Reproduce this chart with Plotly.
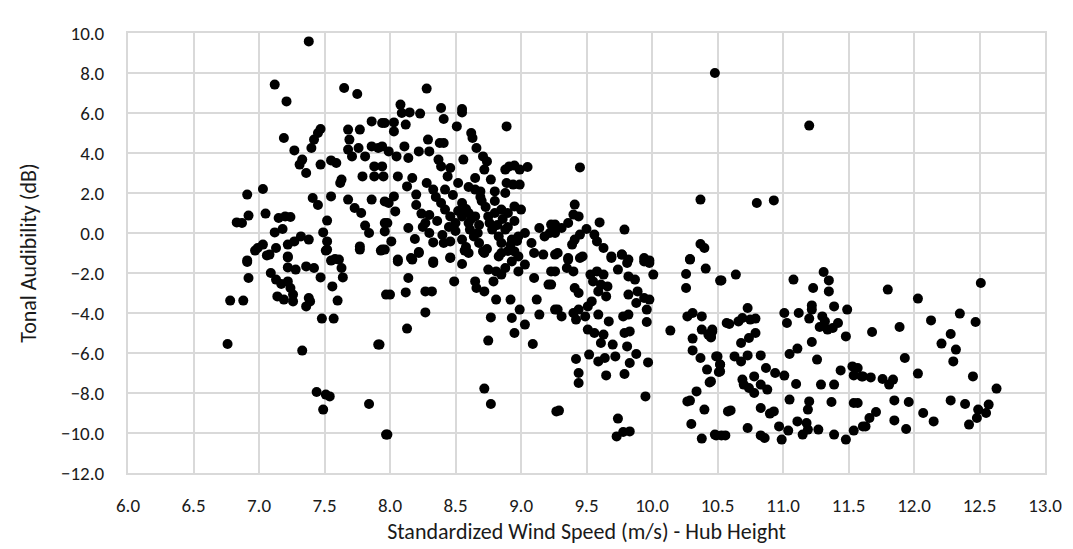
import plotly.graph_objects as go

# Wind speed (m/s) values, grouped by region
x_left = [7.38, 7.12, 7.21, 7.65, 7.75, 7.19, 7.27, 7.40, 7.42, 7.47, 7.45, 7.33, 7.36, 7.31, 7.47, 7.55, 7.59,
          7.63, 7.62, 6.91, 7.03, 6.83, 6.87, 6.92, 7.05, 7.15, 7.20, 7.24, 7.12, 7.18, 7.03, 6.99, 7.08, 7.22,
          7.27, 7.32, 7.38, 7.22, 6.91, 7.41, 7.45, 7.55, 7.49, 7.52, 7.52, 7.52, 7.68, 7.73, 7.78, 7.68, 7.69,
          7.77, 7.86, 7.94, 7.68, 7.76, 7.86, 7.91, 7.71, 7.81, 7.88, 7.79, 7.88, 7.86, 7.96, 7.81, 7.84, 7.96,
          7.77, 7.94, 7.58,
          6.97, 7.13, 6.91, 7.06, 6.92, 6.78, 6.88, 7.22, 7.22, 7.28, 7.36, 7.42, 7.09, 7.13, 7.17, 7.22, 7.24,
          7.14, 7.19, 7.26, 7.26, 7.38, 7.39, 7.36, 7.47, 7.51, 7.55, 7.61, 7.63, 7.64, 7.56, 7.60, 7.48, 7.57,
          6.76, 7.33, 7.91, 7.44, 7.51, 7.54, 7.49, 7.84, 7.97, 7.77, 7.93, 7.97]
y_left = [9.58, 7.42, 6.58, 7.25, 6.95, 4.75, 4.13, 4.25, 4.67, 5.20, 5.00, 3.67, 3.00, 3.42, 3.42, 3.63, 3.50,
          2.67, 2.50, 1.92, 2.20, 0.53, 0.50, 0.87, 0.97, 0.75, 0.83, 0.80, 0.03, 0.20, -0.58, -0.75, -1.08, -0.58,
          -0.42, -0.17, -0.33, -1.17, -1.37, 1.75, 1.40, 1.83, 0.03, -0.42, 0.62, -0.83, 1.67, 1.25, 1.00, 5.17, 4.67,
          5.17, 5.58, 5.50, 4.17, 4.25, 4.33, 4.25, 3.83, 3.83, 3.33, 2.83, 2.83, 1.67, 1.58, 0.37, 0.00, 0.50,
          -0.67, -0.83, -1.30,
          -0.88, -0.75, -1.45, -1.12, -2.25, -3.38, -3.38, -1.22, -1.72, -1.83, -1.67, -1.75, -2.00, -2.33, -2.55,
          -2.42, -2.75, -3.17, -3.33, -3.42, -3.08, -3.25, -3.42, -3.67, -2.22, -0.88, -1.38, -1.33, -1.75, -2.22,
          -2.67, -3.38, -4.28, -4.28, -5.55, -5.88, -5.58, -7.95, -8.08, -8.17, -8.83, -8.55, -10.08, -0.83, -0.88,
          -3.08]

x_mid = [8.28, 8.08, 8.15, 8.23, 8.09, 8.39, 8.41, 8.55, 8.55, 8.51, 8.62, 8.63, 8.66, 8.89, 7.96, 8.03, 8.03,
         8.12, 7.94, 7.99, 8.05, 8.11, 8.14, 8.22, 8.29, 8.30, 8.38, 8.41, 8.37, 8.39, 8.46, 8.56, 7.94, 7.95,
         8.06, 8.13, 8.17, 8.20, 8.28, 8.33, 8.44, 8.42, 8.52, 8.65, 8.65, 8.69, 8.71, 8.74, 8.72, 8.77, 8.80,
         8.88, 8.91, 8.95, 8.99, 9.05, 8.89, 8.94, 8.99, 8.88, 8.03, 7.99, 8.04, 7.98, 7.96, 8.01, 8.14, 8.19,
         8.24, 8.27, 8.30, 8.33, 8.39, 8.42, 8.46, 8.50, 8.55, 8.60, 8.60, 8.65, 8.61, 8.64, 8.67, 8.55, 8.46,
         8.41, 8.75, 8.80, 8.85, 8.90, 8.95, 9.00, 8.78, 8.83, 8.88, 8.93, 8.98, 9.03, 9.08, 9.14, 9.18, 9.23,
         9.26, 8.06, 8.16, 8.22, 8.33, 8.46, 8.60, 8.72, 8.83, 8.98, 9.10,
         7.96, 8.06, 8.17, 8.22, 8.33, 8.46, 8.55, 8.57, 8.14, 8.00, 8.12, 8.27, 8.32, 8.27, 8.13, 7.92, 8.49,
         8.65, 8.66, 8.72, 8.79, 8.81, 8.77, 8.75, 8.75, 8.81, 8.88, 8.85, 8.93, 8.98, 9.03, 8.92, 8.99, 8.93,
         8.95, 9.03, 9.09, 9.10, 9.12, 9.14, 9.21, 9.23, 9.26, 9.17, 8.72, 8.77, 9.27, 7.98, 8.71, 8.85, 8.95,
         8.55, 8.58, 8.62, 8.68, 8.70, 8.73, 8.76, 8.82, 8.86, 8.90, 8.92, 8.95, 8.97, 8.68, 8.74, 8.85, 8.90,
         8.58, 8.50, 8.45, 8.36, 8.35, 8.48, 8.60, 8.69, 8.80, 8.52, 8.40, 8.30, 8.20, 8.25]
y_mid = [7.22, 6.42, 6.03, 5.97, 6.00, 6.25, 5.70, 6.20, 6.03, 5.33, 5.00, 4.75, 4.25, 5.33, 5.50, 5.53, 5.08,
         5.42, 4.33, 4.08, 3.83, 4.33, 3.75, 4.08, 4.67, 4.08, 4.50, 4.50, 3.67, 3.33, 3.25, 3.67, 3.33, 2.83,
         2.83, 2.33, 2.75, 1.92, 2.50, 2.17, 2.83, 2.17, 2.50, 2.75, 2.17, 2.08, 3.83, 3.58, 3.17, 2.67, 2.08,
         3.17, 3.33, 3.37, 3.17, 3.30, 2.50, 2.42, 2.42, 2.00, 1.83, 1.50, 1.08, 0.50, 0.08, -0.42, 0.25, -0.30,
         0.97, 0.50, 0.00, -0.47, 1.50, 1.17, 0.83, 0.50, 0.83, 1.00, 0.50, 0.83, 0.17, -0.17, 0.00, -0.33, -0.42,
         -0.50, 0.83, 1.00, 1.17, 1.00, 1.33, 1.17, 0.17, -0.17, 0.17, -0.33, -0.17, 0.00, -0.50, 0.25, -0.17, 0.42,
         0.00, -1.33, -1.25, -1.00, -1.42, -1.25, -1.00, -1.00, -1.17, -1.17, -1.00,
         -0.83, -1.42, -1.33, -0.95, -1.50, -1.22, -1.55, -0.88, -2.25, -3.08, -2.97, -2.92, -2.92, -3.97, -4.78,
         -5.58, -2.42, -2.42, -2.75, -2.92, -2.42, -3.33, -4.22, -5.38, -1.83, -1.92, -1.75, -2.08, -1.42, -1.92,
         -1.58, -3.33, -3.83, -4.25, -5.00, -4.58, -5.55, -2.25, -3.33, -4.08, -2.58, -1.92, -3.83, -1.08, -7.78,
         -8.55, -8.92, -10.08, -0.92, -1.00, -0.92,
         1.50, 1.20, 0.70, 0.40, 1.60, 1.30, 0.50, 0.40, 0.70, 0.30, -0.60, 0.60, -0.40, -0.50, -0.80, -0.50, -0.90,
         -0.70, 0.10, 0.30, 0.60, 1.80, 1.90, 2.30, 1.80, 1.60, 1.10, -0.10, 0.90, 1.40, 0.30]

x_right = [10.48, 9.45, 10.37, 10.37, 9.41, 9.40, 9.44, 9.36, 9.26, 9.31, 9.22, 9.60, 9.79, 9.50, 9.45, 9.41,
           9.39, 9.56, 9.58, 9.63, 9.69, 9.77, 9.82, 9.94, 9.98, 9.47, 9.28, 9.36, 10.29,
           9.26, 9.36, 9.45, 9.26, 9.23, 9.35, 9.40, 9.53, 9.58, 9.63, 9.55, 9.61, 9.66, 9.59, 9.65, 9.41, 9.44,
           9.69, 9.77, 9.81, 9.74, 9.82, 9.87, 9.94, 9.98, 10.01, 9.82, 9.89, 9.94, 9.98, 9.96, 9.96, 9.88, 9.28,
           9.31, 9.40, 9.44, 9.42, 9.49, 9.51, 9.54, 9.59, 9.67, 9.78, 9.82, 9.51, 9.56, 9.63, 9.61, 9.70, 9.79,
           9.83, 9.81, 9.42, 9.52, 9.59, 9.64, 9.72, 9.88, 9.83, 9.97, 9.44, 9.44, 9.65, 9.79, 9.95, 9.29, 9.74,
           9.73, 9.78, 9.83, 10.14, 10.29, 10.26, 10.26, 10.41, 10.52, 10.40, 10.27, 10.31, 10.38, 10.57, 10.31,
           10.38, 10.43, 10.46, 10.45, 10.31, 10.37, 10.49, 10.52, 10.52, 10.42, 10.44, 10.34, 10.27, 10.29,
           10.40, 10.30, 10.38, 10.48, 10.53, 10.58]
y_right = [8.00, 3.28, 1.67, -0.55, 1.42, 0.92, 0.83, 0.50, 0.42, 0.25, 0.00, 0.53, 0.17, 0.20, -0.08, -0.33,
           -0.58, -0.08, -0.42, -0.75, -1.17, -1.08, -1.33, -1.25, -1.37, -1.17, -1.00, -1.33, -1.30,
           -1.08, -1.25, -1.25, -1.92, -2.58, -1.75, -1.92, -2.08, -1.92, -2.08, -2.42, -2.58, -2.67, -2.92, -3.17,
           -2.75, -3.00, -1.25, -1.08, -1.50, -1.83, -2.17, -2.33, -1.42, -1.50, -2.08, -3.08, -2.92, -3.25, -3.33,
           -3.83, -4.45, -3.50, -3.83, -4.17, -4.00, -3.83, -4.33, -4.17, -3.67, -3.42, -4.08, -4.42, -4.17, -4.08,
           -4.83, -5.00, -5.08, -5.50, -5.58, -5.00, -4.92, -5.67, -6.30, -6.08, -6.42, -6.25, -6.17, -6.05, -6.50,
           -6.47, -7.00, -7.50, -7.12, -7.05, -8.17, -8.88, -9.28, -10.17, -9.95, -9.92, -4.88, -1.33, -2.05,
           -2.75, -1.78, -2.38, -0.75, -4.17, -4.00, -4.17, -4.50, -5.28, -4.83, -5.08, -4.83, -5.22, -5.87, -6.25,
           -6.17, -6.58, -6.92, -6.83, -7.47, -7.92, -8.42, -8.38, -8.83, -9.55, -10.28, -10.08, -10.12, -8.92]

x_far = [11.20, 10.80, 10.93, 10.53, 10.64, 11.08, 11.31, 11.35, 11.35, 11.23, 10.73, 10.69, 10.79, 10.75, 10.59,
         10.66, 11.01, 11.03, 11.12, 11.22, 11.22, 11.20, 11.39, 11.49, 11.30, 11.32, 11.28, 11.34, 11.38, 11.42,
         11.48, 10.79, 10.74, 10.68, 10.46, 10.45, 11.22, 11.11, 11.05, 10.50, 10.52, 10.51, 10.45, 10.63, 10.68,
         10.73, 10.83, 11.26, 10.87, 10.94, 11.01, 10.69, 10.70, 10.74, 10.78, 10.78, 10.83, 10.88, 11.10, 11.29,
         11.39, 11.44, 11.53, 11.54, 11.60, 11.05, 11.20, 11.19, 11.37, 11.54, 10.60, 10.83, 10.90, 10.93, 10.73,
         10.49, 10.56, 10.83, 10.86, 10.99, 10.97, 11.04, 11.11, 11.18, 11.15, 11.19, 11.27, 11.39, 11.48, 11.54,
         11.61,
         12.51, 11.80, 12.03, 12.13, 12.35, 12.47, 11.68, 11.89, 12.28, 12.21, 12.32, 12.30, 11.93, 11.57, 11.61,
         11.67, 11.76, 11.81, 11.84, 12.03, 12.45, 12.63, 11.57, 11.85, 11.96, 12.28, 12.39, 12.57, 12.49, 12.55,
         12.48, 12.07, 12.15, 11.71, 11.66, 11.63, 11.85, 11.94, 12.42]
y_far = [5.37, 1.50, 1.63, -2.37, -2.08, -2.33, -1.95, -2.37, -2.92, -2.75, -3.75, -4.25, -4.28, -4.33, -4.55,
         -4.42, -4.00, -4.50, -4.00, -3.62, -3.83, -4.28, -3.67, -3.83, -4.17, -4.42, -4.70, -4.83, -4.75, -4.50,
         -5.17, -5.00, -5.25, -5.50, -4.92, -5.17, -5.45, -5.78, -6.05, -6.17, -6.58, -6.95, -7.42, -6.17, -6.42,
         -6.12, -6.12, -6.33, -6.75, -7.00, -7.13, -7.33, -7.58, -7.75, -7.17, -8.00, -7.58, -7.83, -7.55, -7.58,
         -7.58, -6.87, -6.67, -7.12, -7.17, -8.33, -8.42, -8.83, -8.45, -8.50, -8.87, -8.75, -9.03, -8.92, -9.75,
         -10.12, -10.12, -10.12, -10.25, -10.33, -9.67, -9.88, -9.42, -9.50, -10.08, -9.83, -9.83, -10.08, -10.33,
         -9.88, -9.67,
         -2.50, -2.83, -3.28, -4.37, -4.03, -4.45, -4.95, -4.70, -5.05, -5.53, -5.83, -6.42, -6.25, -6.75, -7.17,
         -7.22, -7.30, -7.58, -7.33, -7.03, -7.17, -7.78, -8.50, -8.37, -8.45, -8.37, -8.55, -8.58, -8.83, -9.00,
         -9.25, -9.00, -9.42, -8.95, -9.25, -9.67, -9.37, -9.80, -9.58]

x_vals = x_left + x_mid + x_right + x_far
y_vals = y_left + y_mid + y_right + y_far

x_ticks = [6.0 + 0.5 * i for i in range(15)]
y_ticks = [-12.0 + 2.0 * i for i in range(12)]

fig = go.Figure(go.Scatter(
    x=x_vals, y=y_vals, mode="markers",
    marker=dict(color="black", size=10, line=dict(width=0)),
    showlegend=False,
))

font_family = "Carlito, Calibri, Lato, 'Open Sans', sans-serif"
grid = "#d9d9d9"
fig.update_layout(
    width=1073, height=549,
    margin=dict(l=120, r=36, t=25, b=84),
    paper_bgcolor="white", plot_bgcolor="white",
    font=dict(family=font_family, color="#1a1a1a", size=19),
)
fig.update_xaxes(
    range=[6.0, 13.0], tickvals=x_ticks, tickformat=".1f",
    showgrid=True, gridcolor=grid, gridwidth=2,
    showline=True, linecolor=grid, linewidth=2, mirror=True,
    zeroline=False, ticks="", automargin=False,
    ticklabelstandoff=14,
    title=dict(text="Standardized Wind Speed (m/s) - Hub Height", font=dict(size=22), standoff=8),
    tickfont=dict(size=19),
)
fig.update_yaxes(
    range=[-12.0, 10.0], tickvals=y_ticks, tickformat=".1f",
    showgrid=True, gridcolor=grid, gridwidth=2,
    showline=True, linecolor=grid, linewidth=2, mirror=True,
    zeroline=False, ticks="", automargin=False,
    ticklabelstandoff=18,
    title=dict(text="Tonal Audibility (dB)", font=dict(size=22), standoff=18),
    tickfont=dict(size=19),
)
fig.write_html("out.html")
